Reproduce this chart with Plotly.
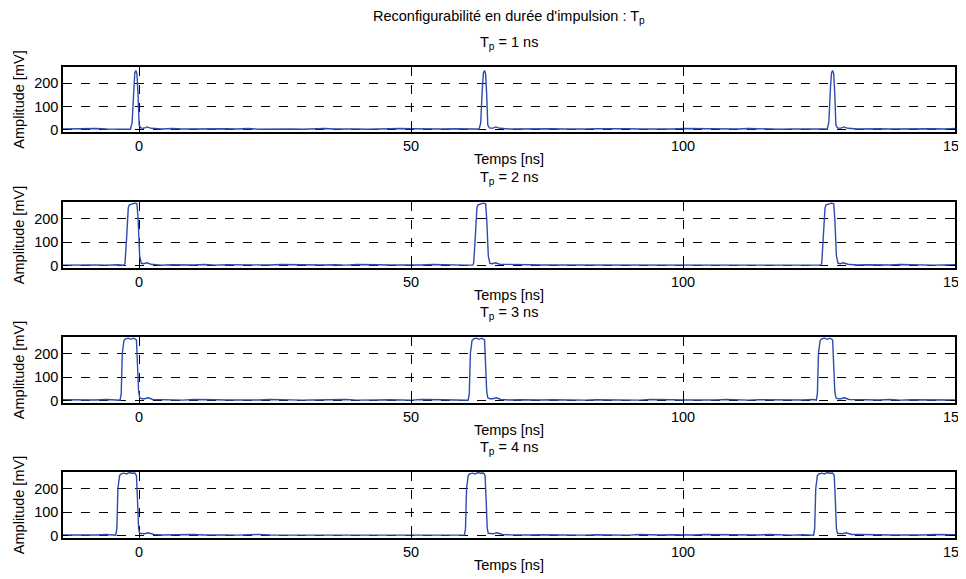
import numpy as np
import plotly.graph_objects as go
from plotly.subplots import make_subplots

# ---------------- data ----------------
main_title = "Reconfigurabilité en durée d'impulsion : T<sub>p</sub>"
panel_titles = ["T<sub>p</sub> = 1 ns", "T<sub>p</sub> = 2 ns", "T<sub>p</sub> = 3 ns", "T<sub>p</sub> = 4 ns"]
x_label = "Temps [ns]"
y_label = "Amplitude [mV]"
x_ticks = [0, 50, 100, 150]
y_ticks = [0, 100, 200]

# baseline (noise floor) samples, mV, evenly spread over -14..150 ns
base_1 = [3, 4, 2, 5, 3, 4, 3, 2, 4, 3, 5, 3, 4, 2, 3, 4, 3, 5, 2, 3,
          4, 3, 2, 4, 5, 3, 4, 3, 2, 4, 3, 5, 4, 3, 2, 3, 4, 5, 3, 4,
          2, 3, 4, 3, 5, 4, 3, 2, 3, 4, 5, 3, 4, 3, 2, 4, 3, 5, 4, 3,
          2, 4, 3, 5, 3, 4, 2, 3, 4, 5, 3, 4, 2, 3, 5, 4, 3, 4, 2, 3,
          4, 3, 5]
base_2 = [2, 3, 4, 3, 2, 4, 3, 5, 3, 2, 4, 3, 3, 5, 2, 4, 3, 4, 2, 3,
          5, 4, 3, 2, 3, 4, 2, 5, 3, 4, 3, 2, 4, 3, 5, 3, 4, 2, 3, 4,
          3, 5, 2, 4, 3, 3, 4, 2, 5, 3, 4, 3, 2, 4, 3, 5, 3, 2, 4, 3,
          4, 2, 3, 5, 4, 3, 2, 4, 3, 3, 5, 2, 4, 3, 4, 2, 3, 5, 3, 4,
          2, 3, 4]
base_3 = [4, 3, 2, 3, 5, 3, 4, 2, 3, 4, 3, 2, 5, 3, 4, 3, 2, 4, 3, 5,
          3, 4, 2, 3, 4, 3, 5, 2, 4, 3, 4, 3, 2, 5, 3, 4, 3, 2, 4, 3,
          5, 3, 4, 2, 3, 4, 3, 5, 2, 4, 3, 3, 4, 2, 5, 3, 4, 3, 2, 4,
          3, 5, 3, 2, 4, 3, 4, 2, 3, 5, 4, 3, 2, 4, 3, 3, 5, 2, 4, 3,
          4, 2, 3]
base_4 = [3, 2, 4, 3, 5, 3, 2, 4, 3, 3, 4, 2, 5, 3, 4, 3, 2, 4, 5, 3,
          3, 4, 2, 3, 5, 4, 3, 2, 3, 4, 4, 3, 5, 2, 3, 4, 3, 2, 4, 5,
          3, 4, 2, 3, 4, 3, 5, 3, 2, 4, 3, 4, 2, 5, 3, 3, 4, 2, 3, 5,
          4, 3, 2, 4, 3, 5, 3, 2, 4, 3, 3, 4, 2, 5, 3, 4, 3, 2, 4, 3,
          5, 3, 4]

# pulse shapes: time offsets from pulse start (ns) and amplitudes (mV)
shape_t_1 = [0.0, 0.3, 0.6, 0.8, 1.0, 1.2, 1.4, 1.6, 1.9, 2.4, 3.1, 3.8]
shape_v_1 = [2, 30, 180, 245, 255, 240, 150, 20, 8, 6, 12, 6]
shape_t_2 = [0.0, 0.2, 0.5, 0.8, 1.0, 1.5, 2.0, 2.4, 2.6, 2.9, 3.2, 3.6, 4.2, 5.0]
shape_v_2 = [2, 10, 120, 245, 258, 262, 265, 262, 200, 40, 10, 8, 12, 6]
shape_t_3 = [0.0, 0.2, 0.4, 0.7, 1.0, 1.5, 2.0, 2.5, 3.0, 3.2, 3.4, 3.6, 4.0, 4.5, 5.2, 6.0]
shape_v_3 = [2, 30, 200, 255, 262, 265, 260, 265, 258, 150, 40, 12, 8, 8, 12, 5]
shape_t_4 = [0.0, 0.2, 0.4, 0.7, 1.0, 1.5, 2.0, 2.5, 3.0, 3.5, 3.8, 4.0, 4.2, 4.4, 4.8, 5.3, 6.0, 7.0]
shape_v_4 = [2, 30, 200, 255, 262, 265, 262, 268, 265, 266, 255, 150, 30, 10, 8, 8, 12, 5]

# pulse start times (ns) in each panel
starts_1 = [-1.6, 62.5, 126.5]
starts_2 = [-2.8, 61.3, 125.3]
starts_3 = [-3.5, 60.5, 124.5]
starts_4 = [-4.3, 59.8, 124.0]

panels = [
    (base_1, shape_t_1, shape_v_1, starts_1),
    (base_2, shape_t_2, shape_v_2, starts_2),
    (base_3, shape_t_3, shape_v_3, starts_3),
    (base_4, shape_t_4, shape_v_4, starts_4),
]

X_MIN, X_MAX = -14, 150
Y_MIN, Y_MAX = -10, 270


def build_trace(base, st, sv, starts):
    tb = np.linspace(X_MIN, X_MAX, len(base))
    vb = np.array(base, dtype=float)
    keep = np.ones(len(tb), dtype=bool)
    ts, vs = [], []
    for s in starts:
        keep &= ~((tb >= s) & (tb <= s + st[-1]))
        ts.extend([s + o for o in st])
        vs.extend(sv)
    t = np.concatenate([tb[keep], np.array(ts)])
    v = np.concatenate([vb[keep], np.array(vs, dtype=float)])
    order = np.argsort(t)
    return t[order], v[order]


# ---------------- figure ----------------
# the page body adds an 8 px offset, so the figure is 8 px smaller
OFF = 8
W, H = 966 - OFF, 579 - OFF
m_l, m_r, m_t, m_b = 63 - OFF, 11, 67 - OFF, 41
ph = H - m_t - m_b
# panel pixel positions in the final page (top, bottom)
pix = [(67, 132), (202, 268), (337, 403), (472, 538)]
domains = [[(H - m_b - (b - OFF)) / ph, (H - m_b - (t - OFF)) / ph] for (t, b) in pix]

fig = make_subplots(rows=4, cols=1)
font_family = "Liberation Sans, Arial, sans-serif"
FS = 14.5

for i, (base, st, sv, starts) in enumerate(panels):
    t, v = build_trace(base, st, sv, starts)
    fig.add_trace(go.Scatter(x=t, y=v, mode="lines",
                             line=dict(color="#2d4cae", width=1.4),
                             showlegend=False), row=i + 1, col=1)
    xa = "xaxis" if i == 0 else f"xaxis{i+1}"
    ya = "yaxis" if i == 0 else f"yaxis{i+1}"
    fig.layout[xa].update(
        domain=[0, 1], range=[X_MIN, X_MAX], tickvals=x_ticks, automargin=False,
        ticklabeloverflow="allow",
        ticks="inside", ticklen=5, tickcolor="black", tickwidth=1,
        showline=True, linecolor="black", linewidth=1.5, mirror="ticks",
        showgrid=True, gridcolor="black", griddash="dash", gridwidth=1,
        zeroline=False, tickfont=dict(size=FS, color="black", family=font_family),
        title=dict(text=x_label, standoff=1,
                   font=dict(size=FS, color="black", family=font_family)),
    )
    fig.layout[ya].update(
        domain=domains[i], range=[Y_MIN, Y_MAX], tickvals=y_ticks, automargin=False,
        ticks="inside", ticklen=5, tickcolor="black", tickwidth=1,
        showline=True, linecolor="black", linewidth=1.5, mirror="ticks",
        showgrid=True, gridcolor="black", griddash="dash", gridwidth=1,
        zeroline=False, tickfont=dict(size=FS, color="black", family=font_family),
        title=dict(text=y_label, standoff=6,
                   font=dict(size=FS, color="black", family=font_family)),
    )
    fig.add_annotation(text=panel_titles[i], xref="paper", yref="paper",
                       x=0.5, y=domains[i][1], yanchor="bottom", yshift=13,
                       showarrow=False,
                       font=dict(size=FS, color="black", family=font_family))

fig.add_annotation(text=main_title, xref="paper", yref="paper",
                   x=0.5, y=1, yanchor="bottom", yshift=39, showarrow=False,
                   font=dict(size=FS, color="black", family=font_family))

fig.update_layout(width=W, height=H, paper_bgcolor="white", plot_bgcolor="white",
                  margin=dict(l=m_l, r=m_r, t=m_t, b=m_b))

fig.write_html("out.html")
